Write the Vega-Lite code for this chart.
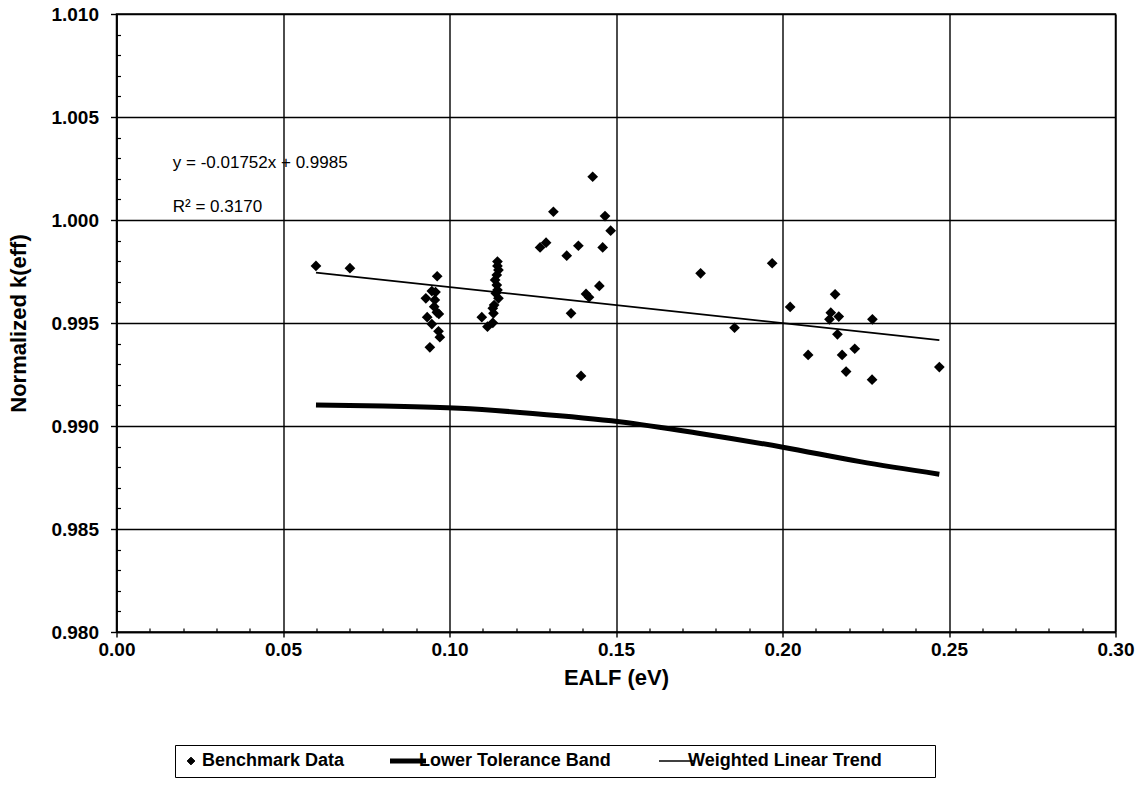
{
  "$schema": "https://vega.github.io/schema/vega-lite/v6.json",
  "width": 999,
  "height": 618,
  "autosize": {"type": "none"},
  "padding": {"left": 116.5, "top": 14, "right": 25.5, "bottom": 154},
  "background": "white",
  "config": {
    "view": {"stroke": "black", "strokeWidth": 1.5},
    "font": "Liberation Sans"
  },
  "datasets": {
    "main": [
      {"series": "Benchmark Data", "ealf": 0.0599, "keff": 0.99777},
      {"series": "Benchmark Data", "ealf": 0.0701, "keff": 0.99766},
      {"series": "Benchmark Data", "ealf": 0.0963, "keff": 0.99727},
      {"series": "Benchmark Data", "ealf": 0.0947, "keff": 0.99655},
      {"series": "Benchmark Data", "ealf": 0.0958, "keff": 0.99650},
      {"series": "Benchmark Data", "ealf": 0.0929, "keff": 0.99620},
      {"series": "Benchmark Data", "ealf": 0.0956, "keff": 0.99612},
      {"series": "Benchmark Data", "ealf": 0.0954, "keff": 0.99579},
      {"series": "Benchmark Data", "ealf": 0.0962, "keff": 0.99552},
      {"series": "Benchmark Data", "ealf": 0.0968, "keff": 0.99544},
      {"series": "Benchmark Data", "ealf": 0.0933, "keff": 0.99528},
      {"series": "Benchmark Data", "ealf": 0.0947, "keff": 0.99495},
      {"series": "Benchmark Data", "ealf": 0.0967, "keff": 0.99460},
      {"series": "Benchmark Data", "ealf": 0.0971, "keff": 0.99431},
      {"series": "Benchmark Data", "ealf": 0.0941, "keff": 0.99382},
      {"series": "Benchmark Data", "ealf": 0.1144, "keff": 0.99798},
      {"series": "Benchmark Data", "ealf": 0.1144, "keff": 0.99777},
      {"series": "Benchmark Data", "ealf": 0.1147, "keff": 0.99757},
      {"series": "Benchmark Data", "ealf": 0.1142, "keff": 0.99733},
      {"series": "Benchmark Data", "ealf": 0.1137, "keff": 0.99709},
      {"series": "Benchmark Data", "ealf": 0.1142, "keff": 0.99684},
      {"series": "Benchmark Data", "ealf": 0.1144, "keff": 0.99660},
      {"series": "Benchmark Data", "ealf": 0.1139, "keff": 0.99644},
      {"series": "Benchmark Data", "ealf": 0.1147, "keff": 0.99620},
      {"series": "Benchmark Data", "ealf": 0.1134, "keff": 0.99587},
      {"series": "Benchmark Data", "ealf": 0.1130, "keff": 0.99571},
      {"series": "Benchmark Data", "ealf": 0.1132, "keff": 0.99547},
      {"series": "Benchmark Data", "ealf": 0.1097, "keff": 0.99528},
      {"series": "Benchmark Data", "ealf": 0.1130, "keff": 0.99501},
      {"series": "Benchmark Data", "ealf": 0.1114, "keff": 0.99482},
      {"series": "Benchmark Data", "ealf": 0.1430, "keff": 1.00210},
      {"series": "Benchmark Data", "ealf": 0.1312, "keff": 1.00040},
      {"series": "Benchmark Data", "ealf": 0.1467, "keff": 1.00019},
      {"series": "Benchmark Data", "ealf": 0.1484, "keff": 0.99948},
      {"series": "Benchmark Data", "ealf": 0.1290, "keff": 0.99890},
      {"series": "Benchmark Data", "ealf": 0.1272, "keff": 0.99867},
      {"series": "Benchmark Data", "ealf": 0.1387, "keff": 0.99875},
      {"series": "Benchmark Data", "ealf": 0.1352, "keff": 0.99827},
      {"series": "Benchmark Data", "ealf": 0.1460, "keff": 0.99867},
      {"series": "Benchmark Data", "ealf": 0.1450, "keff": 0.99680},
      {"series": "Benchmark Data", "ealf": 0.1410, "keff": 0.99641},
      {"series": "Benchmark Data", "ealf": 0.1419, "keff": 0.99625},
      {"series": "Benchmark Data", "ealf": 0.1365, "keff": 0.99547},
      {"series": "Benchmark Data", "ealf": 0.1395, "keff": 0.99243},
      {"series": "Benchmark Data", "ealf": 0.1754, "keff": 0.99741},
      {"series": "Benchmark Data", "ealf": 0.1969, "keff": 0.99790},
      {"series": "Benchmark Data", "ealf": 0.1856, "keff": 0.99477},
      {"series": "Benchmark Data", "ealf": 0.2023, "keff": 0.99578},
      {"series": "Benchmark Data", "ealf": 0.2158, "keff": 0.99639},
      {"series": "Benchmark Data", "ealf": 0.2145, "keff": 0.99550},
      {"series": "Benchmark Data", "ealf": 0.2141, "keff": 0.99518},
      {"series": "Benchmark Data", "ealf": 0.2169, "keff": 0.99531},
      {"series": "Benchmark Data", "ealf": 0.2270, "keff": 0.99518},
      {"series": "Benchmark Data", "ealf": 0.2165, "keff": 0.99445},
      {"series": "Benchmark Data", "ealf": 0.2077, "keff": 0.99345},
      {"series": "Benchmark Data", "ealf": 0.2179, "keff": 0.99345},
      {"series": "Benchmark Data", "ealf": 0.2217, "keff": 0.99375},
      {"series": "Benchmark Data", "ealf": 0.2191, "keff": 0.99264},
      {"series": "Benchmark Data", "ealf": 0.2269, "keff": 0.99225},
      {"series": "Benchmark Data", "ealf": 0.2471, "keff": 0.99286},
      {"series": "Lower Tolerance Band", "ealf": 0.0599, "keff": 0.99102},
      {"series": "Lower Tolerance Band", "ealf": 0.08, "keff": 0.99097},
      {"series": "Lower Tolerance Band", "ealf": 0.103, "keff": 0.99086},
      {"series": "Lower Tolerance Band", "ealf": 0.125, "keff": 0.99061},
      {"series": "Lower Tolerance Band", "ealf": 0.151, "keff": 0.99021},
      {"series": "Lower Tolerance Band", "ealf": 0.1752, "keff": 0.98964},
      {"series": "Lower Tolerance Band", "ealf": 0.2001, "keff": 0.98897},
      {"series": "Lower Tolerance Band", "ealf": 0.2233, "keff": 0.98827},
      {"series": "Lower Tolerance Band", "ealf": 0.2471, "keff": 0.98766},
      {"series": "Weighted Linear Trend", "ealf": 0.0599, "keff": 0.99745},
      {"series": "Weighted Linear Trend", "ealf": 0.2471, "keff": 0.99417}
    ],
    "notes": [
      {"ealf": 0.0169, "keff": 1.00252, "label": "y = -0.01752x + 0.9985"},
      {"ealf": 0.0169, "keff": 1.00039, "label": "R² = 0.3170"}
    ]
  },
  "resolve": {"axis": {"x": "independent", "y": "independent"}},
  "layer": [
    {
      "data": {"name": "main"},
      "transform": [{"filter": "datum.series === 'Lower Tolerance Band'"}],
      "mark": {"type": "line", "strokeWidth": 5, "interpolate": "monotone"},
      "encoding": {
        "x": {"field": "ealf", "type": "quantitative", "scale": {"domain": [0, 0.3], "nice": false, "zero": false},
          "axis": {
            "orient": "bottom",
            "values": [0, 0.05, 0.1, 0.15, 0.2, 0.25, 0.3],
            "format": ".2f", "labelFlush": false,
            "grid": true, "gridColor": "black", "gridWidth": 1.4, "gridOpacity": 1,
            "tickSize": 5, "tickColor": "black", "tickWidth": 1.4,
            "domainColor": "black", "domainWidth": 1.6,
            "labelFont": "Liberation Sans", "labelFontWeight": "bold", "labelFontSize": 19, "labelColor": "black", "labelPadding": 3,
            "title": "EALF (eV)", "titleFont": "Liberation Sans", "titleFontWeight": "bold", "titleFontSize": 22, "titleColor": "black", "titlePadding": 8
          }},
        "y": {"field": "keff", "type": "quantitative", "scale": {"domain": [0.98, 1.01], "nice": false, "zero": false},
          "axis": {
            "orient": "left",
            "values": [0.98, 0.985, 0.99, 0.995, 1.0, 1.005, 1.01],
            "format": ".3f", "labelFlush": false,
            "grid": true, "gridColor": "black", "gridWidth": 1.4, "gridOpacity": 1,
            "tickSize": 6, "tickColor": "black", "tickWidth": 1.4,
            "domainColor": "black", "domainWidth": 1.6,
            "labelFont": "Liberation Sans", "labelFontWeight": "bold", "labelFontSize": 19, "labelColor": "black", "labelPadding": 12,
            "title": "Normalized k(eff)", "titleFont": "Liberation Sans", "titleFontWeight": "bold", "titleFontSize": 22, "titleColor": "black", "titlePadding": 20
          }},
        "color": {"field": "series", "type": "nominal",
          "scale": {"domain": ["Benchmark Data", "Lower Tolerance Band", "Weighted Linear Trend"], "range": ["black", "black", "black"]},
          "legend": {
            "orient": "none", "legendX": 58.5, "legendY": 731,
            "direction": "horizontal",
            "title": "\u00a0", "titleOrient": "right", "titlePadding": 46, "titleFontSize": 10, "titleColor": "white",
            "strokeColor": "black", "padding": 7, "fillColor": "white",
            "labelFont": "Liberation Sans", "labelFontWeight": "bold", "labelFontSize": 18, "labelColor": "black", "labelLimit": 0,
            "symbolSize": 1296, "labelOffset": 2, "columnPadding": 45,
            "encode": {
              "symbols": {"update": {
                "shape": {"signal": "datum.value === 'Benchmark Data' ? 'diamond' : (datum.value === 'Lower Tolerance Band' ? 'M-1,-0.14H1V0.14H-1Z' : 'stroke')"},
                "size": {"signal": "datum.value === 'Benchmark Data' ? 60 : 1296"},
                "fill": {"signal": "datum.value === 'Weighted Linear Trend' ? 'transparent' : 'black'"},
                "stroke": {"value": "black"},
                "strokeWidth": {"signal": "datum.value === 'Lower Tolerance Band' ? 0 : (datum.value === 'Weighted Linear Trend' ? 1.5 : 1)"},
                "opacity": {"value": 1}
              }}
            }
          }}
      }
    },
    {
      "data": {"name": "main"},
      "transform": [{"filter": "datum.series === 'Weighted Linear Trend'"}],
      "mark": {"type": "line", "strokeWidth": 1.7},
      "encoding": {
        "x": {"field": "ealf", "type": "quantitative", "axis": null},
        "y": {"field": "keff", "type": "quantitative", "axis": null},
        "color": {"field": "series", "type": "nominal"}
      }
    },
    {
      "data": {"name": "main"},
      "transform": [{"filter": "datum.series === 'Benchmark Data'"}],
      "mark": {"type": "point", "shape": "diamond", "filled": true, "size": 115, "opacity": 1},
      "encoding": {
        "x": {"field": "ealf", "type": "quantitative", "axis": null},
        "y": {"field": "keff", "type": "quantitative", "axis": null},
        "color": {"field": "series", "type": "nominal"}
      }
    },
    {
      "data": {"name": "notes"},
      "mark": {"type": "text", "align": "left", "baseline": "alphabetic", "font": "Liberation Sans", "fontSize": 17, "color": "black"},
      "encoding": {
        "x": {"field": "ealf", "type": "quantitative",
          "axis": {
            "orient": "bottom",
            "values": [0.01, 0.02, 0.03, 0.04, 0.06, 0.07, 0.08, 0.09, 0.11, 0.12, 0.13, 0.14, 0.16, 0.17, 0.18, 0.19, 0.21, 0.22, 0.23, 0.24, 0.26, 0.27, 0.28, 0.29],
            "labels": false, "domain": false, "grid": false, "title": null,
            "tickSize": -4, "tickColor": "black", "tickWidth": 1.2
          }},
        "y": {"field": "keff", "type": "quantitative",
          "axis": {
            "orient": "left",
            "values": [0.981, 0.982, 0.983, 0.984, 0.986, 0.987, 0.988, 0.989, 0.991, 0.992, 0.993, 0.994, 0.996, 0.997, 0.998, 0.999, 1.001, 1.002, 1.003, 1.004, 1.006, 1.007, 1.008, 1.009],
            "labels": false, "domain": false, "grid": false, "title": null,
            "tickSize": -4, "tickColor": "black", "tickWidth": 1.2
          }},
        "text": {"field": "label", "type": "nominal"}
      }
    }
  ]
}
